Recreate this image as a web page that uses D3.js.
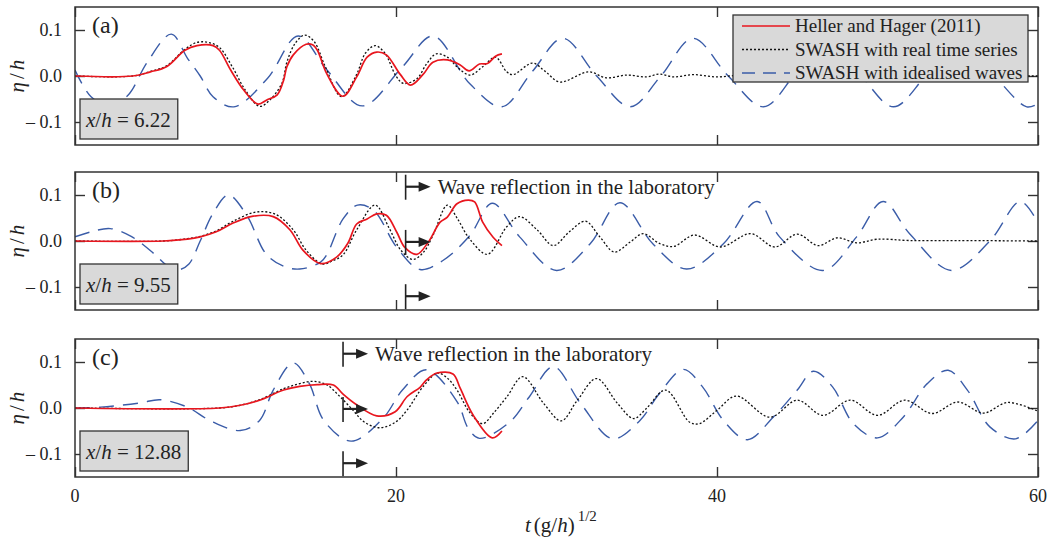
<!DOCTYPE html>
<html><head><meta charset="utf-8">
<script src="https://cdn.jsdelivr.net/npm/d3@7"></script>
<style>
html,body{margin:0;padding:0;background:#fff;}
svg{display:block;font-family:"Liberation Serif","Times New Roman",serif;}
</style></head>
<body>
<svg id="chart" width="1053" height="540"></svg>
<script>
// ---------- data ----------
const xTicks = [0, 20, 40, 60];
const yTicks = [-0.1, 0, 0.1];
const yTickLabels = ["\u2013 0.1", "0.0", "0.1"];
const panelLabels = ["(a)", "(b)", "(c)"];
const positions = ["6.22", "9.55", "12.88"];
const legendLabels = ["Heller and Hager (2011)", "SWASH with real time series", "SWASH with idealised waves"];
const reflectionT = [null, 20.6, 16.7];
const reflectionText = "Wave reflection in the laboratory";
const arrowLevels = [0.118, -0.002, -0.12];

// Panel (a)  x/h = 6.22
const heller_a = [[0,0],[3.6,0],[4.7,0.009],[5.7,0.02],[6.85,0.056],[7.6,0.066],[8.6,0.066],[9.0,0.056],[9.7,0.013],[10.5,-0.03],[11.4,-0.061],[11.95,-0.052],[12.6,-0.041],[13.0,-0.009],[13.2,0.02],[13.6,0.046],[14.4,0.069],[14.8,0.068],[15.1,0.056],[15.7,0.004],[16.7,-0.044],[17.55,-0.002],[18.2,0.041],[18.8,0.052],[19.4,0.046],[20.25,0.004],[20.9,-0.02],[21.7,0.004],[22.3,0.03],[23.2,0.035],[24.0,0.024],[24.55,0.011],[25.2,0.026],[25.7,0.027],[26.2,0.043],[26.6,0.048]];
const swashReal_a = [[0,0],[3.6,0],[4.7,0.01],[5.7,0.022],[6.85,0.058],[7.6,0.073],[8.3,0.073],[9.0,0.062],[9.8,0.02],[10.6,-0.03],[11.5,-0.066],[12.2,-0.05],[12.9,-0.015],[13.2,0.03],[13.7,0.07],[14.3,0.089],[14.9,0.075],[15.6,0.02],[16.6,-0.045],[17.5,0.0],[18.1,0.05],[18.7,0.066],[19.3,0.05],[20.0,0.0],[20.45,-0.016],[21.3,-0.006],[21.9,0.026],[22.5,0.048],[23.2,0.041],[23.8,0.02],[24.6,0.002],[25.4,0.02],[26.2,0.041],[26.9,0.009],[27.3,0.003],[28.5,0.028],[29.3,0.01],[30.2,-0.013],[32.0,0.009],[33.1,-0.004],[34.4,0.002],[35.6,-0.002],[36.4,0.004],[37.3,-0.002],[38.5,0.003],[40,-0.002],[41.5,0.002],[43,-0.001],[44.5,0.002],[46,-0.001],[48,0.001],[50,-0.001],[53,0.001],[56,0],[60,0]];
const swashIdeal_a = [[0,0.013],[1.0,-0.045],[2.2,-0.065],[3.3,-0.042],[4.5,0.03],[6.0,0.091],[7.0,0.039],[7.8,0.0],[8.6,-0.045],[9.9,-0.067],[12.0,-0.005],[13.9,0.087],[15.7,0.013],[17.9,-0.065],[20.4,0.02],[22.3,0.087],[24.6,-0.017],[26.6,-0.067],[28.5,0.01],[30.4,0.082],[32.5,0.0],[34.6,-0.067],[36.5,0.0],[38.5,0.082],[40.7,0.0],[42.9,-0.067],[45,0.01],[47,0.082],[49,0.0],[51,-0.067],[53,0.0],[55.2,0.082],[57.3,0.0],[59.3,-0.067],[60,-0.06]];

// Panel (b)  x/h = 9.55
const heller_b = [[0,0],[5.5,0],[7.0,0.004],[7.8,0.009],[8.8,0.02],[9.85,0.039],[11.1,0.054],[12.35,0.053],[13.4,0.024],[14.2,-0.02],[15.3,-0.049],[16.3,-0.035],[17.0,-0.005],[17.55,0.037],[18.2,0.048],[18.8,0.059],[19.4,0.056],[20.05,0.019],[20.55,-0.014],[21.3,-0.029],[22.0,-0.003],[22.75,0.041],[23.2,0.052],[23.8,0.081],[24.5,0.089],[24.9,0.085],[25.4,0.041],[26.05,0.008],[26.6,-0.01]];
const swashReal_b = [[0,0],[5.5,0],[7.0,0.005],[7.8,0.01],[8.8,0.022],[9.85,0.043],[11.3,0.063],[12.5,0.058],[13.6,0.024],[14.4,-0.02],[15.4,-0.05],[16.0,-0.044],[16.7,-0.03],[17.55,0.024],[18.7,0.078],[19.6,0.026],[20.3,-0.02],[21.05,-0.04],[21.7,-0.025],[22.3,0.012],[23.2,0.078],[23.8,0.05],[24.6,0.004],[25.7,-0.029],[26.9,0.031],[27.7,0.053],[28.8,0.024],[29.8,-0.01],[30.8,0.02],[31.8,0.043],[32.7,0.009],[33.6,-0.024],[34.6,-0.002],[35.4,0.016],[36.45,-0.006],[37.3,-0.012],[38.6,0.013],[40.2,-0.013],[42.1,0.016],[43.6,-0.013],[45,0.015],[46.3,-0.01],[47.5,0.007],[48.7,-0.004],[50,0.004],[52,0.001],[55,0.001],[60,0.0]];
const swashIdeal_b = [[0,0.009],[1.0,0.02],[2.2,0.027],[3.5,0.01],[4.9,-0.027],[5.8,-0.055],[6.5,-0.062],[7.1,-0.05],[7.8,0.0],[8.6,0.06],[9.55,0.1],[10.7,0.056],[11.9,-0.028],[13.0,-0.055],[14.0,-0.061],[15.3,-0.046],[15.7,-0.029],[16.7,0.048],[17.6,0.078],[18.6,0.067],[20.05,-0.014],[21.5,-0.062],[22.9,-0.043],[24.6,0.012],[26.0,0.082],[27.7,0.009],[30.0,-0.064],[32.1,-0.006],[33.95,0.083],[36.0,-0.006],[38.1,-0.061],[40.4,-0.006],[42.5,0.086],[43.9,0.009],[46.6,-0.064],[48.7,0.009],[50.35,0.086],[52,0.016],[54.6,-0.064],[57,0.0],[58.9,0.086],[60,0.039]];

// Panel (c)  x/h = 12.88
const heller_c = [[0,0],[9.0,0],[10.3,0.006],[11.5,0.017],[13.0,0.039],[14.0,0.047],[15.1,0.051],[16.1,0.05],[16.7,0.03],[17.5,0.008],[18.8,-0.017],[19.95,-0.008],[20.7,0.025],[21.5,0.045],[21.9,0.061],[22.55,0.076],[23.55,0.074],[24.0,0.043],[24.8,-0.015],[26.0,-0.065],[26.6,-0.05]];
const swashReal_c = [[0,0],[9.0,0],[10.3,0.006],[11.5,0.018],[13.0,0.042],[14.0,0.053],[14.85,0.058],[15.7,0.05],[16.5,0.025],[17.3,-0.004],[18.0,-0.03],[19.0,-0.043],[20.0,-0.03],[20.7,-0.004],[21.7,0.047],[22.6,0.076],[23.2,0.065],[23.8,0.039],[24.6,-0.01],[25.4,-0.034],[26.1,-0.01],[26.9,0.024],[27.9,0.068],[29.2,0.01],[30.3,-0.028],[31.3,0.017],[32.5,0.064],[33.8,0.01],[34.8,-0.023],[35.6,-0.001],[36.8,0.039],[38.3,-0.031],[38.9,-0.034],[40,-0.005],[41.2,0.026],[43.3,-0.02],[45,0.017],[46.6,-0.016],[48.3,0.017],[50,-0.016],[51.7,0.017],[53.4,-0.012],[55,0.013],[56.6,-0.011],[58.1,0.012],[60,-0.007]];
const swashIdeal_c = [[0,0],[1.6,0.002],[4.05,0.011],[5.3,0.018],[7.0,0.002],[8.4,-0.027],[10.3,-0.049],[11.5,-0.027],[12.35,0.039],[13.6,0.098],[14.6,0.053],[15.5,-0.027],[17.2,-0.072],[19.2,-0.022],[20.4,0.039],[21.9,0.083],[23.8,0.014],[24.5,-0.044],[25.2,-0.066],[27.1,-0.03],[28.3,0.024],[29.8,0.09],[31.5,0.01],[33.5,-0.067],[35.2,-0.027],[36.4,0.031],[37.9,0.084],[39.1,0.046],[40.4,-0.027],[41.9,-0.069],[43.5,-0.02],[45.0,0.039],[46.0,0.08],[47.2,0.046],[48.5,-0.034],[50,-0.065],[51.6,-0.02],[53.1,0.053],[54.4,0.082],[55.6,0.039],[57.0,-0.041],[58.6,-0.067],[60,-0.027]];

const panels = [
  {heller: heller_a, real: swashReal_a, ideal: swashIdeal_a},
  {heller: heller_b, real: swashReal_b, ideal: swashIdeal_b},
  {heller: heller_c, real: swashReal_c, ideal: swashIdeal_c}
];

// ---------- layout ----------
const svg = d3.select("#chart");
const L = 75, R = 1038;
const tops = [7, 172, 339];
const PH = 138;
const colors = {heller: "#e8161e", real: "#111111", ideal: "#3a5ca8"};
const serif = '"Liberation Serif","Times New Roman",serif';

const x = d3.scaleLinear().domain([0, 60]).range([L, R]);

svg.append("defs").selectAll("clipPath").data(tops).join("clipPath")
  .attr("id", (d, i) => "clip" + i)
  .append("rect").attr("x", L).attr("y", d => d).attr("width", R - L).attr("height", PH);

panels.forEach((p, i) => {
  const top = tops[i], bot = top + PH;
  const y = d3.scaleLinear().domain([-0.15, 0.15]).range([bot, top]);
  const g = svg.append("g");

  // axes (ticks inward)
  g.append("g").attr("transform", `translate(${L},0)`)
    .call(d3.axisRight(y).tickValues(yTicks).tickSize(10).tickFormat(""))
    .call(a => a.select(".domain").remove());
  g.append("g").attr("transform", `translate(${R},0)`)
    .call(d3.axisLeft(y).tickValues(yTicks).tickSize(10).tickFormat(""))
    .call(a => a.select(".domain").remove());
  g.append("g").attr("transform", `translate(0,${top})`)
    .call(d3.axisBottom(x).tickValues(xTicks).tickSize(10).tickFormat(""))
    .call(a => a.select(".domain").remove());
  g.append("g").attr("transform", `translate(0,${bot})`)
    .call(d3.axisTop(x).tickValues(xTicks).tickSize(10).tickFormat(""))
    .call(a => a.select(".domain").remove());
  g.selectAll(".tick line").attr("stroke", "#333").attr("stroke-width", 1.4);

  // y tick labels
  g.selectAll(".ylab").data(yTicks).join("text")
    .attr("x", 62).attr("y", d => y(d) + 6)
    .attr("text-anchor", "end").attr("font-size", 18).attr("font-family", serif)
    .attr("fill", "#222")
    .text((d, k) => yTickLabels[k]);

  // y axis label
  const yl = g.append("text")
    .attr("transform", `translate(24,${y(0)}) rotate(-90)`)
    .attr("text-anchor", "middle").attr("font-size", 21).attr("font-family", serif)
    .attr("fill", "#222");
  yl.append("tspan").attr("font-style", "italic").text("η");
  yl.append("tspan").attr("dx", 3).text("/");
  yl.append("tspan").attr("dx", 3).attr("font-style", "italic").text("h");

  // curves
  const line = d3.line().x(d => x(d[0])).y(d => y(d[1])).curve(d3.curveCatmullRom.alpha(0.5));
  const cg = g.append("g").attr("clip-path", `url(#clip${i})`);
  cg.append("path").attr("d", line(p.ideal)).attr("fill", "none")
    .attr("stroke", colors.ideal).attr("stroke-width", 1.4).attr("stroke-dasharray", "15,9");
  cg.append("path").attr("d", line(p.real)).attr("fill", "none")
    .attr("stroke", colors.real).attr("stroke-width", 1.3).attr("stroke-dasharray", "2,2");
  cg.append("path").attr("d", line(p.heller)).attr("fill", "none")
    .attr("stroke", colors.heller).attr("stroke-width", 1.7);

  // reflection annotations
  if (reflectionT[i] !== null) {
    const rx = x(reflectionT[i]);
    arrowLevels.forEach((lv, k) => {
      const ay = y(lv);
      const y1 = Math.max(top, ay - 12), y2 = Math.min(bot, ay + 13);
      g.append("line").attr("x1", rx).attr("x2", rx).attr("y1", y1).attr("y2", y2)
        .attr("stroke", "#222").attr("stroke-width", 1.6);
      g.append("line").attr("x1", rx).attr("x2", rx + 15).attr("y1", ay).attr("y2", ay)
        .attr("stroke", "#222").attr("stroke-width", 2.2);
      g.append("path").attr("d", `M${rx + 25},${ay} L${rx + 13},${ay - 5} L${rx + 13},${ay + 5} Z`)
        .attr("fill", "#222");
    });
    g.append("text").attr("x", rx + 32).attr("y", y(arrowLevels[0]) + 7)
      .attr("font-size", 21).attr("font-family", serif).attr("fill", "#222")
      .text(reflectionText);
  }

  // panel label
  g.append("text").attr("x", 92).attr("y", top + 26)
    .attr("font-size", 24).attr("font-family", serif).attr("fill", "#222")
    .text(panelLabels[i]);

  // x/h box
  const bg = g.append("g");
  const rect = bg.append("rect");
  const bt = bg.append("text").attr("x", 86).attr("y", bot - 18)
    .attr("font-size", 21).attr("font-family", serif).attr("fill", "#222");
  bt.append("tspan").attr("font-style", "italic").text("x");
  bt.append("tspan").text("/");
  bt.append("tspan").attr("font-style", "italic").text("h");
  bt.append("tspan").text(" = " + positions[i]);
  const w = bt.node().getComputedTextLength();
  rect.attr("x", 80).attr("y", bot - 46).attr("width", w + 13).attr("height", 40)
    .attr("fill", "#d9d9d9").attr("stroke", "#333").attr("stroke-width", 1.3);

  // frame
  g.append("rect").attr("x", L).attr("y", top).attr("width", R - L).attr("height", PH)
    .attr("fill", "none").attr("stroke", "#333").attr("stroke-width", 1.5);
});

// x tick labels
const lastBot = tops[2] + PH;
svg.selectAll(".xlab").data(xTicks).join("text")
  .attr("x", d => x(d)).attr("y", lastBot + 25)
  .attr("text-anchor", "middle").attr("font-size", 18).attr("font-family", serif)
  .attr("fill", "#222").text(d => d);

// x axis label
const xl = svg.append("text").attr("x", 525).attr("y", 532)
  .attr("font-size", 21).attr("font-family", serif).attr("fill", "#222");
xl.append("tspan").attr("font-style", "italic").text("t");
xl.append("tspan").attr("dx", 3).text("(g/");
xl.append("tspan").attr("font-style", "italic").text("h");
xl.append("tspan").text(")");
xl.append("tspan").attr("dx", 3).attr("dy", -11).attr("font-size", 15).text("1/2");

// legend
const lg = svg.append("g");
lg.append("rect").attr("x", 733).attr("y", 15).attr("width", 295).attr("height", 67)
  .attr("fill", "#d9d9d9").attr("stroke", "#333").attr("stroke-width", 1.3);
const legStyles = [
  {c: colors.heller, dash: null, w: 1.7},
  {c: colors.real, dash: "2,2", w: 1.3},
  {c: colors.ideal, dash: "13,8", w: 1.4}
];
legendLabels.forEach((lab, k) => {
  const ly = 26 + k * 23.5;
  const s = legStyles[k];
  lg.append("line").attr("x1", 742).attr("x2", 790).attr("y1", ly).attr("y2", ly)
    .attr("stroke", s.c).attr("stroke-width", s.w).attr("stroke-dasharray", s.dash);
  lg.append("text").attr("x", 795).attr("y", ly + 6)
    .attr("font-size", 19).attr("font-family", serif).attr("fill", "#222").text(lab);
});
</script>
</body></html>
